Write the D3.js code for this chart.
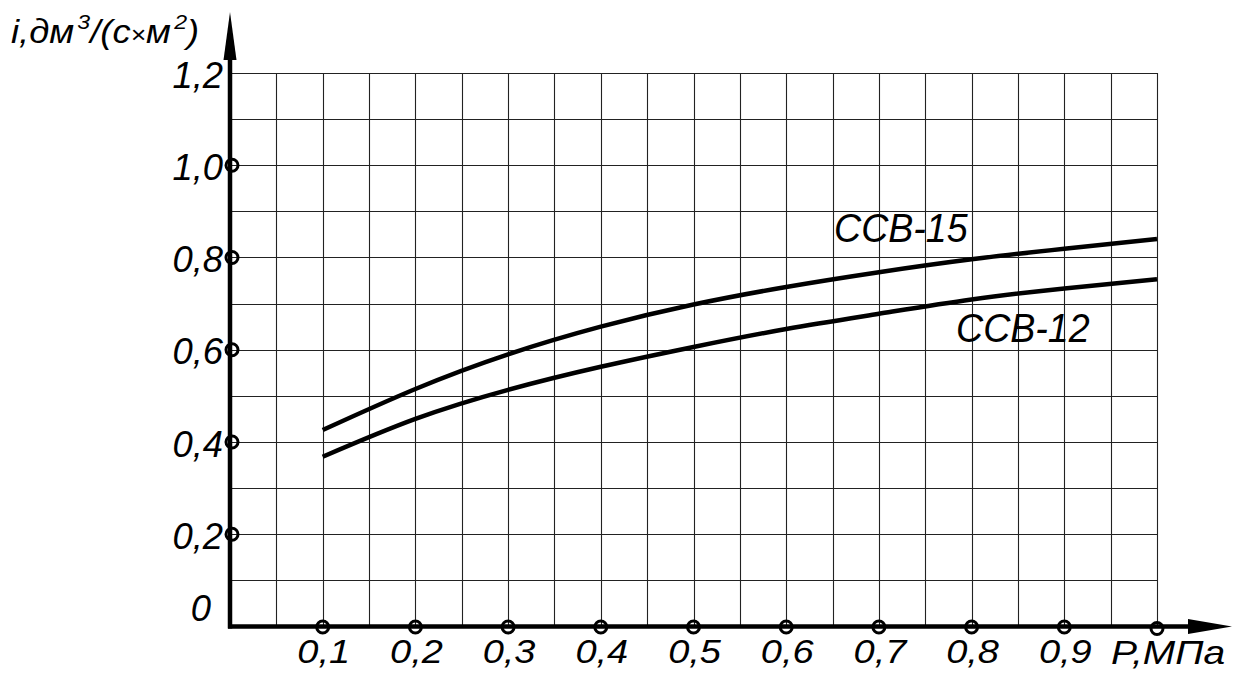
<!DOCTYPE html>
<html>
<head>
<meta charset="utf-8">
<script src="https://d3js.org/d3.v7.min.js"></script>
<style>
  body { margin: 0; background: #fff; }
  text { font-family: "Liberation Sans", Arial, sans-serif; font-style: italic; fill: #000; }
</style>
</head>
<body>
<div id="my_dataviz"></div>
<script>
// data
const pressure = [0.1, 0.2, 0.3, 0.4, 0.5, 0.6, 0.7, 0.8, 0.9, 1.0];
const ccb15 = [0.426, 0.515, 0.590, 0.650, 0.698, 0.736, 0.768, 0.796, 0.819, 0.840];
const ccb12 = [0.368, 0.450, 0.513, 0.563, 0.606, 0.645, 0.678, 0.709, 0.733, 0.753];
const xTicks = [0.1, 0.2, 0.3, 0.4, 0.5, 0.6, 0.7, 0.8, 0.9];
const xTickLabels = ["0,1", "0,2", "0,3", "0,4", "0,5", "0,6", "0,7", "0,8", "0,9"];
const yTicks = [0.2, 0.4, 0.6, 0.8, 1.0, 1.2];
const yTickLabels = ["0,2", "0,4", "0,6", "0,8", "1,0", "1,2"];

const W = 1234, H = 673;

const svg = d3.select("#my_dataviz")
  .append("svg")
  .attr("width", W)
  .attr("height", H);

const x = d3.scaleLinear().domain([0, 1.0]).range([230, 1157]);
const y = d3.scaleLinear().domain([0, 1.2]).range([626.5, 73]);

// text drawn with a horizontal stretch, like the CAD lettering
function label(g, txt, px, py, size, sx, anchor) {
  return g.append("text")
    .attr("transform", `translate(${px},${py}) scale(${sx},1)`)
    .attr("font-size", size)
    .attr("text-anchor", anchor || "start")
    .text(txt);
}

// grid
const gridX = d3.range(1, 21).map(d => d * 0.05);
const gridY = d3.range(1, 13).map(d => d * 0.1);
svg.append("g")
  .selectAll("line")
  .data(gridX)
  .join("line")
  .attr("x1", d => Math.round(x(d)) + 0.5)
  .attr("x2", d => Math.round(x(d)) + 0.5)
  .attr("y1", y(1.2))
  .attr("y2", y(0))
  .attr("stroke", "#222")
  .attr("stroke-width", 1.1);
svg.append("g")
  .selectAll("line")
  .data(gridY)
  .join("line")
  .attr("x1", x(0))
  .attr("x2", x(1.0) + 1)
  .attr("y1", d => Math.round(y(d)) + 0.5)
  .attr("y2", d => Math.round(y(d)) + 0.5)
  .attr("stroke", "#222")
  .attr("stroke-width", 1.1);

// curves
const line = d3.line()
  .x((d, i) => x(pressure[i]))
  .y(d => y(d))
  .curve(d3.curveNatural);
[ccb15, ccb12].forEach(s => {
  svg.append("path")
    .attr("d", line(s))
    .attr("fill", "none")
    .attr("stroke", "#000")
    .attr("stroke-width", 4.5);
});

// axes with arrows
svg.append("line")
  .attr("x1", x(0)).attr("y1", y(0) + 2)
  .attr("x2", x(0)).attr("y2", 58)
  .attr("stroke", "#000").attr("stroke-width", 4.5);
svg.append("path")
  .attr("d", `M${x(0) - 6.5},60 L${x(0)},12 L${x(0) + 6.5},60 Z`)
  .attr("fill", "#000");
svg.append("line")
  .attr("x1", x(0) - 2).attr("y1", y(0))
  .attr("x2", 1190).attr("y2", y(0))
  .attr("stroke", "#000").attr("stroke-width", 4.5);
svg.append("path")
  .attr("d", `M1188,${y(0) - 7.5} L1232,${y(0)} L1188,${y(0) + 7.5} Z`)
  .attr("fill", "#000");

// tick circles
svg.append("g")
  .selectAll("circle")
  .data(xTicks.concat([1.0]))
  .join("circle")
  .attr("cx", d => x(d))
  .attr("cy", d => y(0) + (d === 1.0 ? 2 : 0.5))
  .attr("r", 6)
  .attr("fill", "none")
  .attr("stroke", "#000")
  .attr("stroke-width", 3);
svg.append("g")
  .selectAll("circle")
  .data(yTicks.slice(0, 5))
  .join("circle")
  .attr("cx", x(0) + 2)
  .attr("cy", d => y(d))
  .attr("r", 6)
  .attr("fill", "none")
  .attr("stroke", "#000")
  .attr("stroke-width", 3);

// tick labels
const gx = svg.append("g");
xTicks.forEach((d, i) => label(gx, xTickLabels[i], x(d) + 1, 663, 33, 1.15, "middle"));
const gy = svg.append("g");
yTicks.forEach((d, i) => label(gy, yTickLabels[i], 223, y(d) + 14.5, 37.5, 0.97, "end"));
label(gy, "0", 211, y(0) - 6, 37.5, 0.97, "end");

// axis titles
label(svg, "P,МПа", 1111, 664, 33, 1.18, "start");
const yt = svg.append("text")
  .attr("transform", "translate(11,43) scale(1.1,1)")
  .attr("font-size", 33);
yt.append("tspan").text("i,дм");
yt.append("tspan").attr("font-size", 21).attr("dy", -14).attr("dx", 3).text("3");
yt.append("tspan").attr("dy", 14).text("/(с");
yt.append("tspan").attr("font-size", 24).text("×");
yt.append("tspan").text("м");
yt.append("tspan").attr("font-size", 21).attr("dy", -14).attr("dx", 3).text("2");
yt.append("tspan").attr("dy", 14).text(")");

// curve labels
label(svg, "ССВ-15", 834, 242, 40, 0.94, "start");
label(svg, "ССВ-12", 956, 342, 40, 0.94, "start");
</script>
</body>
</html>
